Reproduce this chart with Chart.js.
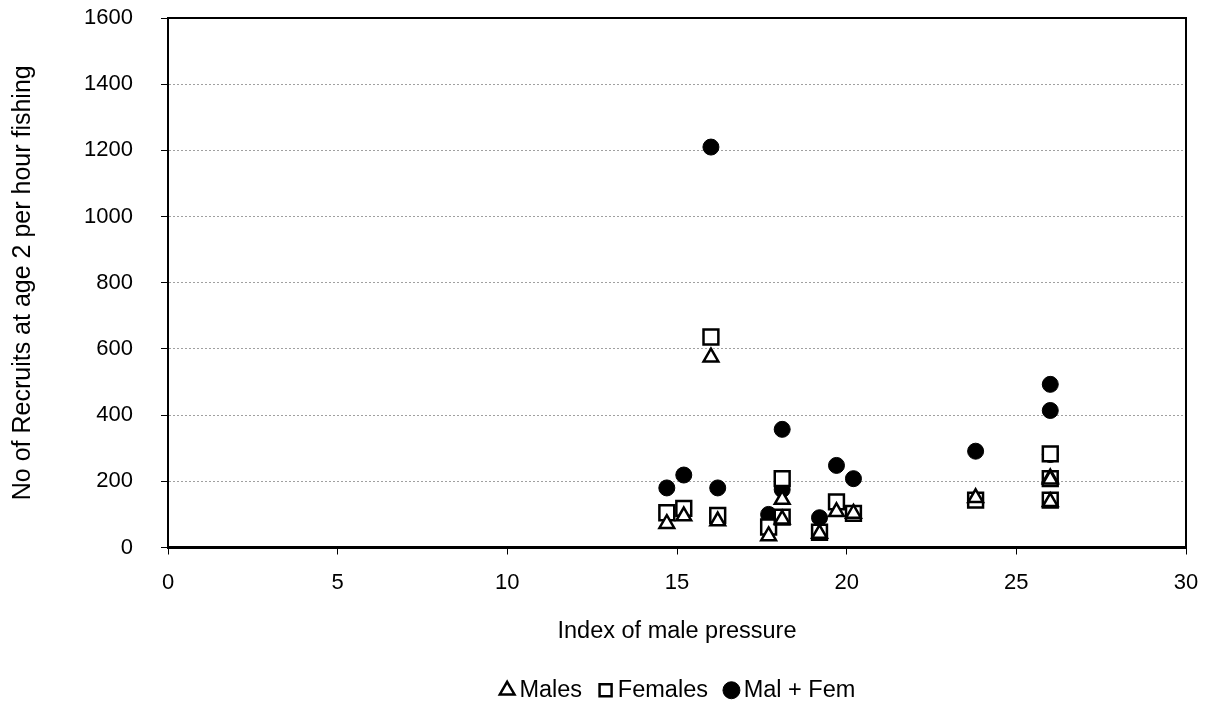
<!DOCTYPE html>
<html>
<head>
<meta charset="utf-8">
<script src="https://cdn.jsdelivr.net/npm/chart.js@4"></script>
<style>
  html, body { margin: 0; padding: 0; background: #fff; }
  #wrap { width: 1208px; height: 707px; }
</style>
</head>
<body>
<div id="wrap"><canvas id="recruits"></canvas></div>
<script>
// index of male pressure for each observation
const pressure = [14.7, 15.2, 16.0, 16.2, 17.7, 18.1, 18.1, 19.2, 19.7, 20.2, 23.8, 26.0, 26.0, 26.0];
// recruits at age 2 per hour fishing
const males   = [72, 95, 575, 80, 35, 145, 85, 42, 108, 103, 150, 210, 206, 138];
const females = [105, 118, 636, 97, 62, 208, 92, 46, 138, 103, 143, 283, 208, 143];
const malFem  = [180, 219, 1210, 180, 100, 357, 175, 90, 248, 208, 291, 493, 414, 281];

const seriesNames = ['Males', 'Females', 'Mal + Fem'];
const xTicks = [0, 5, 10, 15, 20, 25, 30];
const yTicks = [0, 200, 400, 600, 800, 1000, 1200, 1400, 1600];

const FONT = 'Liberation Sans, Arial, sans-serif';

function points(values) {
    return values.map(function (v, i) { return { x: pressure[i], y: v }; });
}

// frame round the plot area (top and right edges)
const frame = {
    id: 'frame',
    afterDraw: function (chart) {
        const a = chart.chartArea;
        const ctx = chart.ctx;
        ctx.save();
        ctx.strokeStyle = '#000';
        ctx.lineWidth = 2;
        ctx.beginPath();
        ctx.moveTo(a.left, a.top);
        ctx.lineTo(a.right, a.top);
        ctx.lineTo(a.right, a.bottom);
        ctx.stroke();
        ctx.restore();
    }
};

// the legend sits a bit right of centre in the original
const legendShift = {
    id: 'legendShift',
    afterLayout: function (chart) {
        chart.legend.left += 88;
        chart.legend.right += 88;
    }
};

document.addEventListener('DOMContentLoaded', function () {
    const ctx = document.getElementById('recruits').getContext('2d');
    new Chart(ctx, {
        type: 'scatter',
        data: {
            datasets: [{
                label: seriesNames[0],
                data: points(males),
                pointStyle: 'triangle',
                pointRadius: 8.5,
                backgroundColor: '#fff',
                borderColor: '#000',
                borderWidth: 2.5
            }, {
                label: seriesNames[1],
                data: points(females),
                pointStyle: 'rect',
                pointRadius: 10.5,
                backgroundColor: '#fff',
                borderColor: '#000',
                borderWidth: 2.5
            }, {
                label: seriesNames[2],
                data: points(malFem),
                pointStyle: 'circle',
                pointRadius: 8,
                backgroundColor: '#000',
                borderColor: '#000',
                borderWidth: 1
            }]
        },
        options: {
            responsive: true,
            maintainAspectRatio: false,
            animation: false,
            events: [],
            layout: {
                padding: { top: 18, right: 22, bottom: -5, left: 0 }
            },
            plugins: {
                tooltip: { enabled: false },
                legend: {
                    position: 'bottom',
                    labels: {
                        usePointStyle: true,
                        boxWidth: 1,
                        boxHeight: 12,
                        padding: 23,
                        color: '#000',
                        font: { family: FONT, size: 23.5 }
                    }
                }
            },
            scales: {
                x: {
                    type: 'linear',
                    min: 0,
                    max: 30,
                    afterBuildTicks: function (axis) {
                        axis.ticks = xTicks.map(function (v) { return { value: v }; });
                    },
                    afterFit: function (axis) {
                        axis.height = 108;
                        axis.paddingLeft = 0;
                        axis.paddingRight = 0;
                    },
                    grid: {
                        drawOnChartArea: false,
                        drawTicks: true,
                        tickLength: 7,
                        tickColor: '#000',
                        tickWidth: 1
                    },
                    border: { color: '#000', width: 3 },
                    ticks: {
                        padding: 15,
                        color: '#000',
                        maxRotation: 0,
                        font: { family: FONT, size: 22 },
                        callback: function (v) { return String(v); }
                    },
                    title: {
                        display: true,
                        text: 'Index of male pressure',
                        color: '#000',
                        padding: { top: 4, bottom: 10 },
                        font: { family: FONT, size: 23.5 }
                    }
                },
                y: {
                    min: 0,
                    max: 1600,
                    afterBuildTicks: function (axis) {
                        axis.ticks = yTicks.map(function (v) { return { value: v }; });
                    },
                    afterFit: function (axis) {
                        axis.width = 168;
                        axis.paddingTop = 0;
                        axis.paddingBottom = 0;
                    },
                    grid: {
                        color: '#a0a0a0',
                        lineWidth: 1,
                        drawTicks: true,
                        tickLength: 7,
                        tickColor: '#000',
                        tickWidth: 1
                    },
                    border: { color: '#000', width: 2, dash: [2, 2] },
                    ticks: {
                        padding: 28,
                        color: '#000',
                        font: { family: FONT, size: 22 },
                        callback: function (v) { return String(v); }
                    },
                    title: {
                        display: true,
                        text: 'No of Recruits at age 2 per hour fishing',
                        color: '#000',
                        padding: { top: 8, bottom: 4 },
                        font: { family: FONT, size: 25 }
                    }
                }
            }
        },
        plugins: [frame, legendShift]
    });
});
</script>
</body>
</html>
